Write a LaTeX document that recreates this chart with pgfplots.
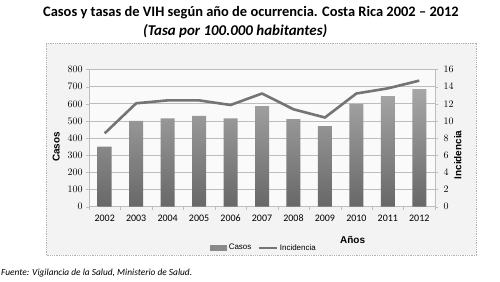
\documentclass[border=0pt]{standalone}
\usepackage{pgfplots}
\pgfplotsset{compat=1.18}
\usepackage{fontspec}
\setmainfont{Carlito}
\newfontfamily\arialf{Liberation Sans}
\definecolor{bgc}{HTML}{F3F3F3}
\definecolor{barc}{HTML}{8A8A8A}
\definecolor{linec}{HTML}{747474}
\definecolor{gridc}{HTML}{BDBDBD}
\begin{document}
\begin{tikzpicture}[x=1bp,y=1bp]
\useasboundingbox (0,0) rectangle (500,281);
\fill[bgc] (46,26) rectangle (476,238);
\draw[gray!60, densely dotted, line width=0.8bp] (46,26) rectangle (476,238);
\node[font=\bfseries\fontsize{14.5}{16}\selectfont, anchor=west, inner sep=0] at (43,268) {Casos y tasas de VIH según año de ocurrencia. Costa Rica 2002 – 2012};
\node[font=\bfseries\itshape\fontsize{15}{16}\selectfont, anchor=west, inner sep=0] at (143,250) {(Tasa por 100.000 habitantes)};
\node[font=\itshape\fontsize{9.4}{10}\selectfont, anchor=west, inner sep=0] at (1,8) {Fuente: Vigilancia de la Salud, Ministerio de Salud.};
\begin{axis}[
  at={(89bp,74.3bp)}, anchor=south west,
  scale only axis, width=346bp, height=137.2bp,
  xmin=-0.5, xmax=10.5, ymin=0, ymax=800,
  xtick={0,...,10},
  xticklabels={2002,2003,2004,2005,2006,2007,2008,2009,2010,2011,2012},
  minor xtick={-0.5,0.5,...,10.5},
  ytick={0,100,...,800},
  axis y line*=left, axis x line*=bottom,
  axis line style={gridc, line width=0.6bp},
  x axis line style={-}, y axis line style={-},
  major x tick style={draw=none},
  minor x tick style={gridc},
  major y tick style={gridc},
  tick align=outside, major tick length=3bp, minor tick length=3bp,
  ymajorgrids, major grid style={gridc, line width=0.7bp},
  axis background/.style={fill=white!60!bgc},
  tick label style={font=\fontsize{10}{11}\selectfont},
  xticklabel style={yshift=-2bp, text height=6.5bp, text depth=0bp},
  every axis y label/.style={at={(axis description cs:-0.095,0.435)}, anchor=center, rotate=90},
  ylabel={\arialf\bfseries\fontsize{10}{11}\selectfont Casos},
  xlabel={\arialf\bfseries\fontsize{10}{11}\selectfont Años},
  every axis x label/.style={at={(axis description cs:0.762,-0.245)}, anchor=center},
  clip=false,
]
\addplot[ybar, bar width=14bp, draw=none, top color=barc!75!white, bottom color=barc!75!black]
  coordinates {(0,350) (1,500) (2,515) (3,529) (4,515) (5,587) (6,510) (7,470) (8,600) (9,645) (10,685)};
\end{axis}
\begin{axis}[
  at={(89bp,74.3bp)}, anchor=south west,
  scale only axis, width=346bp, height=137.2bp,
  xmin=-0.5, xmax=10.5, ymin=0, ymax=16,
  axis x line=none, axis y line*=right,
  axis line style={gridc, line width=0.6bp}, y axis line style={-},
  ytick={0,2,...,16},
  major y tick style={gridc}, tick align=outside, major tick length=3bp,
  tick label style={font=\fontsize{10}{11}\selectfont},
  yticklabel style={xshift=2bp},
  every axis y label/.style={at={(axis description cs:1.066,0.377)}, anchor=center, rotate=90},
  ylabel={\arialf\bfseries\fontsize{10}{11}\selectfont Incidencia},
  legend style={at={(axis description cs:0.506,-0.30)}, anchor=center, draw=none, fill=none,
    font=\arialf\fontsize{8}{9}\selectfont, legend columns=2,
    /tikz/every even column/.append style={column sep=4bp}},
  legend image code/.code={},
  clip=false,
]
\addlegendimage{legend image code/.code={\fill[barc] (0bp,-2.5bp) rectangle (16bp,2.5bp);}}
\addlegendentry{Casos}
\addlegendimage{legend image code/.code={\draw[linec, line width=2.5bp] (0bp,0bp) -- (18bp,0bp);}}
\addlegendentry{Incidencia}
\addplot[linec, line width=2.6bp, mark=none, line join=round]
  coordinates {(0,8.56) (1,12.06) (2,12.4) (3,12.4) (4,11.86) (5,13.2) (6,11.36) (7,10.4) (8,13.2) (9,13.8) (10,14.7)};
\end{axis}
\end{tikzpicture}
\end{document}
